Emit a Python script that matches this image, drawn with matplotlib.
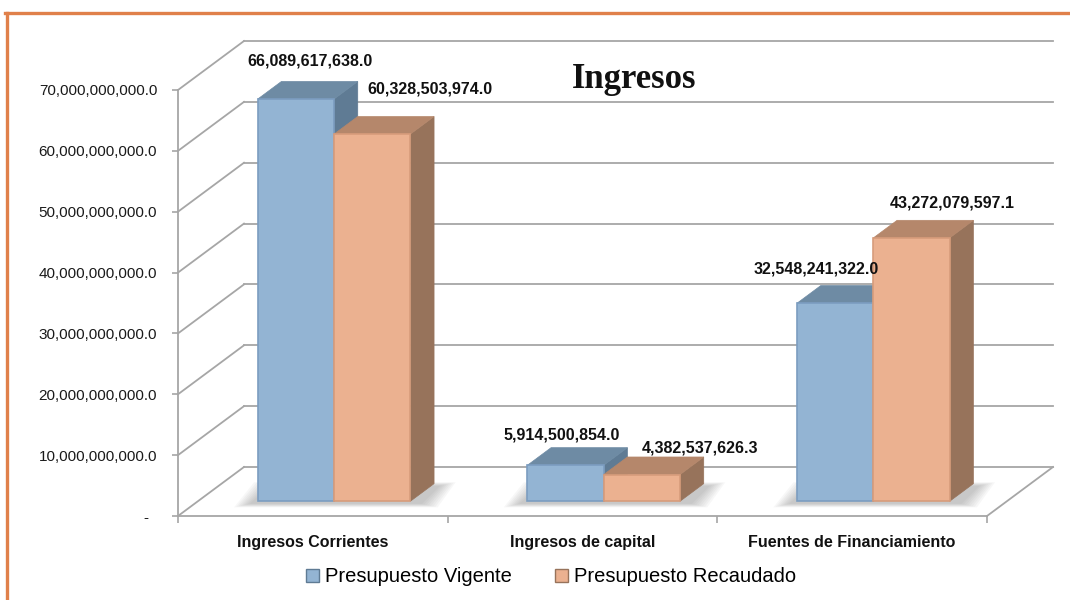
import matplotlib.pyplot as plt
from matplotlib.patches import Polygon, Patch
from matplotlib.lines import Line2D
from matplotlib.ticker import FixedLocator, FuncFormatter

categorias = ["Ingresos Corrientes", "Ingresos de capital", "Fuentes de Financiamiento"]
series = ["Presupuesto Vigente", "Presupuesto Recaudado"]
vigente = [66089617638.0, 5914500854.0, 32548241322.0]
recaudado = [60328503974.0, 4382537626.3, 43272079597.1]
yticks = [0, 10e9, 20e9, 30e9, 40e9, 50e9, 60e9, 70e9]

# colours per series: front, top, side, edge
front = ["#93B4D3", "#EBB190"]
top = ["#6E8BA4", "#B5876B"]
side = ["#5F7B94", "#97735B"]
edge = ["#7C9DC0", "#D79C7B"]
grid_c = "#A6A6A6"

W, H = 1070, 600
fig = plt.figure(figsize=(W / 100, H / 100), dpi=100)
ax = fig.add_axes([178 / W, (H - 516) / H, (987 - 178) / W, (516 - 90) / H])
ax.set_xlim(0, 3)
ax.set_ylim(0, 70e9)

# pixel -> data helpers
px_x = 3 / (987 - 178)
px_y = 70e9 / (516 - 90)
Dx, Dy = 66 * px_x, 49 * px_y          # depth of the whole plot box
f_front, f_bar = 0.30, 0.36             # where bars start, how deep they are
bar_w = 0.283

# walls: gridlines on the back wall and side wall
for v in yticks:
    ax.plot([0, Dx], [v, v + Dy], color=grid_c, lw=1.3, clip_on=False, zorder=1)
    ax.plot([Dx, 3 + Dx], [v + Dy, v + Dy], color=grid_c, lw=1.3, clip_on=False, zorder=1)
ax.plot([3, 3 + Dx], [0, Dy], color=grid_c, lw=1.3, clip_on=False, zorder=1)

# label offsets in pixels (x right, y up) from the front-top centre of each bar
lab_off = [[(14, 38), (58, 45)], [(-4, 30), (58, 27)], [(-19, 34), (41, 35)]]

bdx, bdy = f_bar * Dx, f_bar * Dy
for i in range(len(categorias)):
    vals = [vigente[i], recaudado[i]]
    base_x = i + 0.222 + f_front * Dx
    base_y = f_front * Dy
    # soft shadow on the floor, stacked faint layers
    sx0, sx1 = base_x, base_x + 2 * bar_w + bdx
    for k in range(8):
        g = (8 - k) * 2.2 * px_x
        gy = (8 - k) * 0.5 * px_y
        sh = Polygon([(sx0 - g - 6 * px_x, base_y - 2 * px_y - gy),
                      (sx1 + g - 14 * px_x, base_y - 2 * px_y - gy),
                      (sx1 + g + 4 * px_x, base_y + bdy * 0.85 + gy),
                      (sx0 - g + 14 * px_x, base_y + bdy * 0.85 + gy)],
                     closed=True, fc="#505050", ec="none", alpha=0.045, clip_on=False, zorder=2)
        ax.add_patch(sh)
    for s in range(2):
        x0 = base_x + s * bar_w
        h = vals[s]
        z = 3 + s * 3
        ax.add_patch(Polygon([(x0 + bar_w, base_y), (x0 + bar_w + bdx, base_y + bdy),
                              (x0 + bar_w + bdx, base_y + h + bdy), (x0 + bar_w, base_y + h)],
                             closed=True, fc=side[s], ec=side[s], lw=0.5, clip_on=False, zorder=z))
        ax.add_patch(Polygon([(x0, base_y + h), (x0 + bar_w, base_y + h),
                              (x0 + bar_w + bdx, base_y + h + bdy), (x0 + bdx, base_y + h + bdy)],
                             closed=True, fc=top[s], ec=top[s], lw=0.5, clip_on=False, zorder=z + 1))
        ax.bar(x0, h, width=bar_w, bottom=base_y, align="edge", color=front[s],
               edgecolor=edge[s], linewidth=1.2, clip_on=False, zorder=z + 2)
        ax.annotate(f"{h:,.1f}", xy=(x0 + bar_w / 2, base_y + h), xytext=lab_off[i][s],
                    textcoords="offset pixels", ha="center", va="center",
                    fontsize=11.5, fontweight="bold", color="#111111",
                    family="Liberation Sans", zorder=20, annotation_clip=False)

# axes styling
for sp in ["top", "right"]:
    ax.spines[sp].set_visible(False)
for sp in ["left", "bottom"]:
    ax.spines[sp].set_color(grid_c)
    ax.spines[sp].set_linewidth(1.3)
ax.spines["left"].set_zorder(1)
ax.spines["bottom"].set_zorder(1)

ax.yaxis.set_major_locator(FixedLocator(yticks))
ax.yaxis.set_major_formatter(FuncFormatter(lambda v, p: "-  " if v == 0 else f"{v:,.1f}"))
ax.tick_params(axis="y", length=4, width=1.2, color=grid_c, pad=11,
               labelsize=11, labelcolor="#1A1A1A")

ax.xaxis.set_major_locator(FixedLocator([0, 1, 2, 3]))
ax.xaxis.set_major_formatter(FuncFormatter(lambda v, p: ""))
ax.xaxis.set_minor_locator(FixedLocator([0.5, 1.5, 2.5]))
ax.set_xticklabels(categorias, minor=True)
ax.tick_params(axis="x", which="major", length=5, width=1.2, color=grid_c)
ax.tick_params(axis="x", which="minor", length=0, pad=14, labelsize=11.5)
for t in ax.get_xticklabels(minor=True):
    t.set_fontweight("bold")
    t.set_family("Liberation Sans")
    t.set_color("#111111")
for t in ax.get_yticklabels():
    t.set_family("Liberation Sans")
ax.set_facecolor("none")

fig.text(634 / W, 1 - 88 / H, "Ingresos", ha="center", va="baseline",
         fontsize=25, fontweight="bold", family="Liberation Serif", color="#111111")

handles = [Patch(facecolor=front[0], edgecolor=side[0]), Patch(facecolor=front[1], edgecolor=side[1])]
fig.legend(handles, series, loc="center", bbox_to_anchor=(551 / W, 1 - 577 / H), ncol=2,
           frameon=False, handlelength=0.65, handleheight=0.65, handletextpad=0.3,
           columnspacing=2.1, prop={"family": "Liberation Sans", "size": 14.5})

# orange frame of the slide
fig.add_artist(Line2D([5 / W, 1], [1 - 13 / H, 1 - 13 / H], color="#E0804A", lw=2.4))
fig.add_artist(Line2D([6.5 / W, 6.5 / W], [0, 1 - 13 / H], color="#E0804A", lw=2.4))

fig.savefig("out.png", dpi=100)
